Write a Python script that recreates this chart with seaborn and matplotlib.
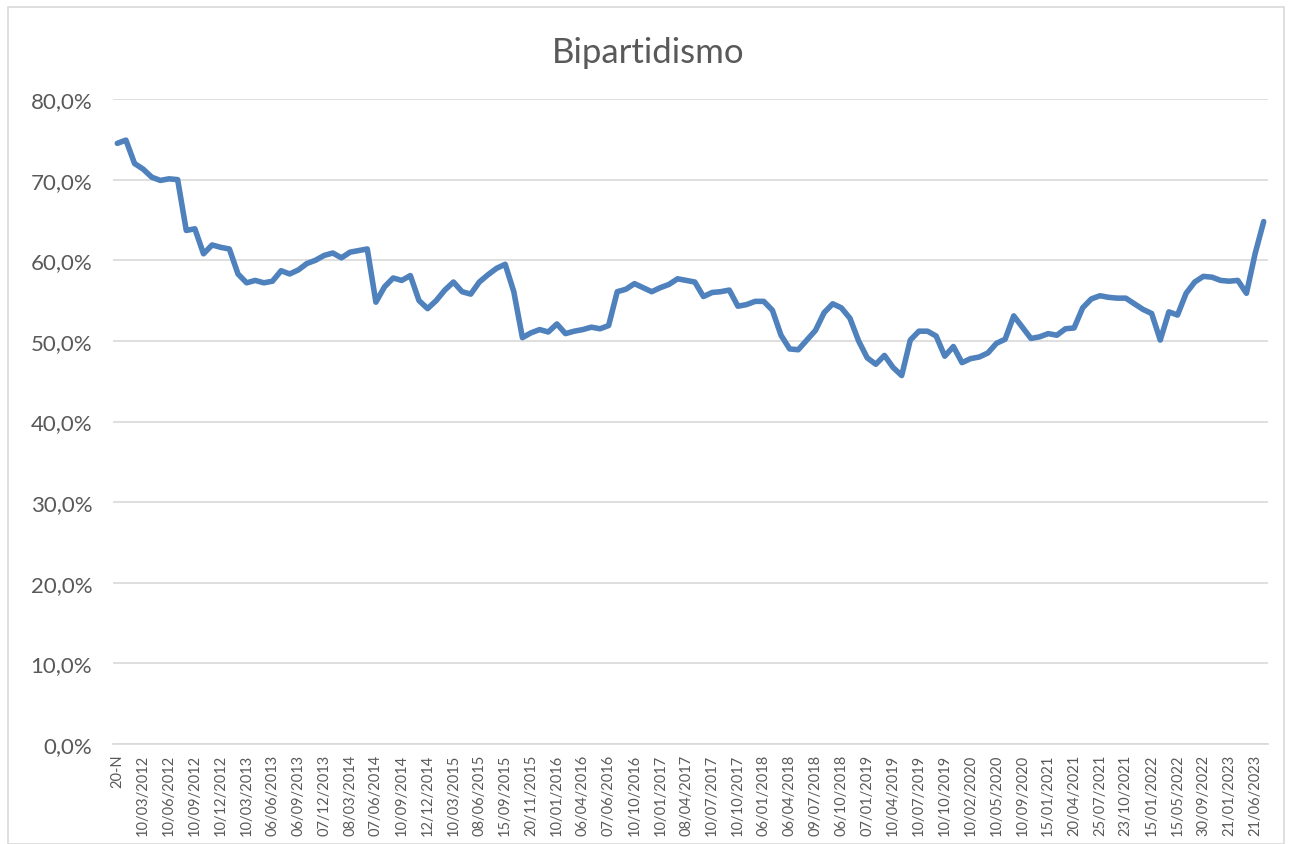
import numpy as np
import pandas as pd
import matplotlib
matplotlib.use("Agg")
import matplotlib.pyplot as plt
import seaborn as sns
from matplotlib.ticker import FuncFormatter, FixedLocator

# === data (share of vote, %) ===
bipartidismo = [
    74.5, 74.9, 72.0, 71.3, 70.3, 69.9, 70.1, 70.0, 63.7, 63.9,
    60.8, 61.9, 61.6, 61.4, 58.3, 57.2, 57.5, 57.2, 57.4, 58.7,
    58.3, 58.8, 59.6, 60.0, 60.6, 60.9, 60.3, 61.0, 61.2, 61.4,
    54.8, 56.7, 57.8, 57.5, 58.1, 55.0, 54.0, 55.0, 56.3, 57.3,
    56.1, 55.8, 57.3, 58.2, 59.0, 59.5, 56.1, 50.4, 51.0, 51.4,
    51.1, 52.1, 50.9, 51.2, 51.4, 51.7, 51.5, 51.9, 56.1, 56.4,
    57.1, 56.6, 56.1, 56.6, 57.0, 57.7, 57.5, 57.3, 55.5, 56.0,
    56.1, 56.3, 54.3, 54.5, 54.9, 54.9, 53.8, 50.7, 49.0, 48.9,
    50.1, 51.3, 53.5, 54.6, 54.1, 52.8, 50.0, 47.9, 47.1, 48.2,
    46.7, 45.7, 50.1, 51.2, 51.2, 50.6, 48.1, 49.3, 47.3, 47.8,
    48.0, 48.5, 49.7, 50.2, 53.1, 51.7, 50.3, 50.5, 50.9, 50.7,
    51.5, 51.6, 54.1, 55.2, 55.6, 55.4, 55.3, 55.3, 54.6, 53.9,
    53.4, 50.1, 53.6, 53.2, 55.9, 57.3, 58.0, 57.9, 57.5, 57.4,
    57.5, 55.9, 60.8, 64.8,
]

# only every third point carries a label on the axis
tick_labels = [
    "20-N", "10/03/2012", "10/06/2012", "10/09/2012", "10/12/2012",
    "10/03/2013", "06/06/2013", "06/09/2013", "07/12/2013", "08/03/2014",
    "07/06/2014", "10/09/2014", "12/12/2014", "10/03/2015", "08/06/2015",
    "15/09/2015", "20/11/2015", "10/01/2016", "06/04/2016", "07/06/2016",
    "10/10/2016", "10/01/2017", "08/04/2017", "10/07/2017", "10/10/2017",
    "06/01/2018", "06/04/2018", "09/07/2018", "06/10/2018", "07/01/2019",
    "10/04/2019", "10/07/2019", "10/10/2019", "10/02/2020", "10/05/2020",
    "10/09/2020", "15/01/2021", "20/04/2021", "25/07/2021", "23/10/2021",
    "15/01/2022", "15/05/2022", "30/09/2022", "21/01/2023", "21/06/2023",
]
label_step = 3

df = pd.DataFrame({"punto": np.arange(len(bipartidismo)), "valor": bipartidismo})

# === plotting ===
sns.set_theme(style="white")
plt.rcParams["font.family"] = ["Lato", "DejaVu Sans"]

grey_text = "#595959"
grid_col = "#D9D9D9"

fig = plt.figure(figsize=(12.92, 8.45), dpi=100)
ax = fig.add_axes([113 / 1292, 1 - 745 / 845, (1268 - 113) / 1292, (745 - 100) / 845])

sns.lineplot(data=df, x="punto", y="valor", ax=ax, color="#4F81BD", linewidth=4.0,
             solid_joinstyle="round", solid_capstyle="round")

ax.set_xlim(-0.5, len(bipartidismo) - 0.5)
ax.set_ylim(0, 80)
ax.set_yticks(np.arange(0, 81, 10))
ax.yaxis.set_major_formatter(FuncFormatter(lambda v, p: f"{v:.1f}".replace(".", ",") + "%"))
ax.xaxis.set_major_locator(FixedLocator(np.arange(0, len(bipartidismo), label_step)))
ax.set_xticklabels(tick_labels, rotation=90)

ax.tick_params(axis="y", labelsize=16, colors=grey_text, length=0, pad=15)
ax.tick_params(axis="x", labelsize=10.5, colors=grey_text, length=0, pad=7)
ax.grid(axis="y", color=grid_col, linewidth=1.2)
ax.set_axisbelow(True)
for side in ["top", "right", "left"]:
    ax.spines[side].set_visible(False)
ax.spines["bottom"].set_color(grid_col)
ax.spines["bottom"].set_linewidth(1.2)
ax.set_xlabel("")
ax.set_ylabel("")

fig.text(648 / 1292, 1 - 53 / 845, "Bipartidismo", ha="center", va="center",
         fontsize=25, color=grey_text)

# thin chart border like the spreadsheet chart area
fig.patches.append(plt.Rectangle((8 / 1292, 0), 1 - 16 / 1292, 1 - 8 / 845,
                                 transform=fig.transFigure, fill=False,
                                 edgecolor=grid_col, linewidth=1.2))

fig.savefig("out.png", dpi=100)
